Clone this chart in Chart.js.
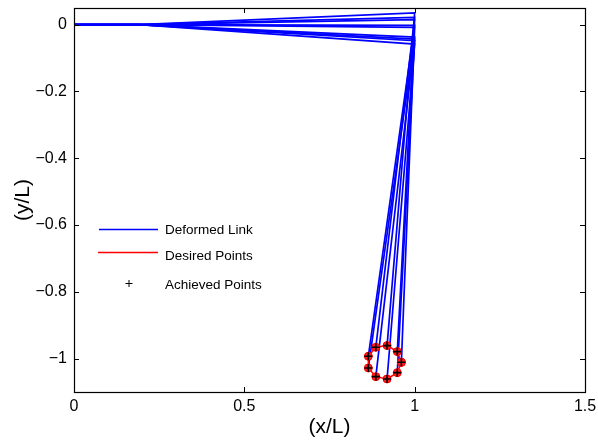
<!DOCTYPE html>
<html>
<head>
<meta charset="utf-8">
<script src="https://cdn.jsdelivr.net/npm/chart.js@4.4.0/dist/chart.umd.min.js"></script>
<style>
  html, body { margin: 0; padding: 0; background: #fff; }
  #wrap { width: 598px; height: 441px; }
</style>
</head>
<body>
<div id="wrap"><canvas id="linkChart" width="598" height="441"></canvas></div>
<script>
// Axis ticks
const xTicks = [0, 0.5, 1, 1.5];
const yTicks = [-1, -0.8, -0.6, -0.4, -0.2, 0];

// Desired points on the circle, going round
const desiredX = [0.961, 0.949, 0.919, 0.886, 0.864, 0.864, 0.886, 0.919, 0.949];
const desiredY = [-1.011, -0.979, -0.961, -0.966, -0.993, -1.028, -1.054, -1.061, -1.042];

// Achieved points, same order
const achievedX = [0.961, 0.949, 0.919, 0.886, 0.864, 0.864, 0.886, 0.919, 0.949];
const achievedY = [-1.011, -0.979, -0.961, -0.966, -0.993, -1.028, -1.054, -1.061, -1.042];

// First link: where it leaves the axis and where its tip ends up
const bendX = 0.19;
const tipX = [1, 1, 1, 1, 1, 1, 1, 1, 1];
const tipY = [-0.008, 0.015, 0.035, 0.022, -0.002, -0.037, -0.048, -0.058, -0.043];

const FONT = '"Liberation Sans", Arial, Helvetica, sans-serif';

function fmt(v) {
  return v < 0 ? '\u2212' + String(-v) : String(v);
}

// Link datasets - one per pose
const linkSets = tipY.map((ty, i) => ({
  data: [
    { x: 0, y: 0 },
    { x: bendX, y: 0 },
    { x: tipX[i], y: ty },
    { x: achievedX[i], y: achievedY[i] },
  ],
  showLine: true,
  borderColor: '#0000ff',
  borderWidth: 1.7,
  pointRadius: 0,
  order: 3,
}));

const desiredPts = desiredX.map((x, i) => ({ x: x, y: desiredY[i] }));
desiredPts.push(desiredPts[0]); // close the circle

// Box + inner tick marks, like matlab axes
const boxPlugin = {
  id: 'box',
  afterDraw(chart) {
    const { ctx, chartArea: a, scales } = chart;
    const tl = 5;
    ctx.save();
    ctx.strokeStyle = '#000';
    ctx.lineWidth = 1;
    ctx.beginPath();
    xTicks.forEach((v) => {
      const px = Math.round(scales.x.getPixelForValue(v)) + 0.5;
      ctx.moveTo(px, a.bottom); ctx.lineTo(px, a.bottom - tl);
      ctx.moveTo(px, a.top); ctx.lineTo(px, a.top + tl);
    });
    yTicks.forEach((v) => {
      const py = Math.round(scales.y.getPixelForValue(v)) + 0.5;
      ctx.moveTo(a.left, py); ctx.lineTo(a.left + tl, py);
      ctx.moveTo(a.right, py); ctx.lineTo(a.right - tl, py);
    });
    ctx.stroke();
    ctx.lineWidth = 1.2;
    ctx.strokeRect(Math.round(a.left) + 0.5, Math.round(a.top) + 0.5,
      Math.round(a.right - a.left), Math.round(a.bottom - a.top));
    ctx.restore();
  },
};

// Legend (no box) inside the axes
const legendPlugin = {
  id: 'mlLegend',
  afterDraw(chart) {
    const ctx = chart.ctx;
    ctx.save();
    ctx.font = '13.5px ' + FONT;
    ctx.fillStyle = '#000';
    ctx.textBaseline = 'middle';
    ctx.textAlign = 'left';

    ctx.strokeStyle = '#0000ff';
    ctx.lineWidth = 1.4;
    ctx.beginPath(); ctx.moveTo(99, 229.5); ctx.lineTo(158, 229.5); ctx.stroke();
    ctx.fillText('Deformed Link', 165, 230);

    ctx.strokeStyle = '#ff0000';
    ctx.beginPath(); ctx.moveTo(98, 252.5); ctx.lineTo(158, 252.5); ctx.stroke();
    ctx.fillText('Desired Points', 165, 256.5);

    ctx.strokeStyle = '#000';
    ctx.lineWidth = 1;
    ctx.beginPath();
    ctx.moveTo(125.5, 283.5); ctx.lineTo(132.5, 283.5);
    ctx.moveTo(129, 280); ctx.lineTo(129, 287);
    ctx.stroke();
    ctx.fillText('Achieved Points', 165, 285.5);
    ctx.restore();
  },
};

const tickFont = { family: FONT, size: 16 };
const titleFont = { family: FONT, size: 21 };

new Chart(document.getElementById('linkChart').getContext('2d'), {
  type: 'scatter',
  data: {
    datasets: [
      {
        data: achievedX.map((x, i) => ({ x: x, y: achievedY[i] })),
        pointStyle: 'cross',
        pointRadius: 4,
        pointBorderWidth: 1.6,
        pointBorderColor: '#000',
        showLine: false,
        order: 1,
      },
      {
        data: desiredPts,
        showLine: true,
        borderColor: '#ff0000',
        borderWidth: 1.5,
        pointRadius: 4,
        pointBackgroundColor: '#ff2020',
        pointBorderColor: '#ff0000',
        pointBorderWidth: 1,
        order: 2,
      },
      ...linkSets,
    ],
  },
  options: {
    responsive: false,
    animation: false,
    layout: { padding: { top: 8, right: 13, left: 0, bottom: 0 } },
    plugins: {
      legend: { display: false },
      tooltip: { enabled: false },
    },
    scales: {
      x: {
        type: 'linear',
        min: 0,
        max: 1.5,
        afterBuildTicks: (s) => { s.ticks = xTicks.map((v) => ({ value: v })); },
        afterFit: (s) => { s.height = 49; s.paddingLeft = 0; s.paddingRight = 0; },
        grid: { display: false, drawTicks: false },
        border: { display: false },
        ticks: { font: tickFont, color: '#000', padding: 5, maxRotation: 0, autoSkip: false, callback: (v) => fmt(v) },
        title: { display: true, text: '(x/L)', font: titleFont, color: '#000', padding: { top: 0, bottom: 1 } },
      },
      y: {
        type: 'linear',
        min: -1.1,
        max: 0.05,
        afterBuildTicks: (s) => { s.ticks = yTicks.map((v) => ({ value: v })); },
        afterFit: (s) => { s.width = 74; s.paddingTop = 0; s.paddingBottom = 0; },
        grid: { display: false, drawTicks: false },
        border: { display: false },
        ticks: { font: tickFont, color: '#000', padding: 7, autoSkip: false, callback: (v) => fmt(v) },
        title: { display: true, text: '(y/L)', font: titleFont, color: '#000', padding: { top: 11, bottom: 0 } },
      },
    },
  },
  plugins: [boxPlugin, legendPlugin],
});
</script>
</body>
</html>
